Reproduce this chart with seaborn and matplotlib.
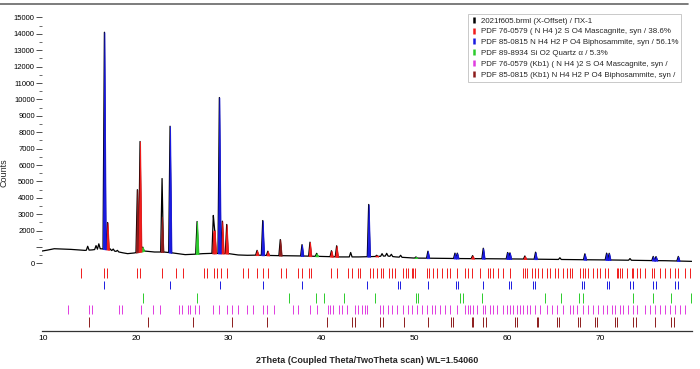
#!/usr/bin/env python3
"""XRD pattern of sample PX-1 with phase peaks and reference stick rows."""

import matplotlib
matplotlib.use("Agg")
import matplotlib.pyplot as plt
from matplotlib.lines import Line2D
from matplotlib.ticker import FixedLocator, MultipleLocator
import numpy as np
import seaborn as sns


# ---- measured pattern (2theta in degrees, counts) ----
BASE_X = [9.8, 10.5, 11.2, 12.0, 13.0, 14.0, 14.5, 15.3, 16.2, 17.0, 18.0, 18.6,
          19.1, 19.8, 20.9, 22.0, 23.0, 24.0, 25.3, 26.2, 27.2, 28.0, 30.0, 31.0,
          32.0, 33.0, 35.0, 37.0, 40.0, 42.0, 44.0, 46.0, 47.0, 48.0, 50.0, 52.0,
          55.0, 58.0, 60.0, 62.0, 65.0, 68.0, 70.0, 72.0, 75.0, 77.0, 79.85]
BASE_Y = [750, 820, 900, 880, 860, 820, 800, 830, 900, 840, 720, 650,
          600, 640, 760, 700, 700, 640, 540, 560, 600, 620, 600, 520,
          500, 510, 480, 470, 430, 400, 400, 430, 460, 400, 330, 320,
          300, 290, 280, 270, 250, 230, 220, 210, 180, 170, 130]

# peaks coloured by phase: position, apex counts
BLUE_POS = [16.60, 23.67, 28.98, 33.65, 37.88, 45.06, 51.44, 54.35, 54.60, 57.40,
            60.02, 60.27, 63.03, 68.34, 70.68, 70.96, 75.70, 76.00, 78.40]
BLUE_TOP = [14100, 8370, 10120, 2620, 1150, 3600, 750, 630, 630, 930,
            670, 650, 690, 590, 630, 620, 430, 420, 430]
RED_POS = [16.94, 20.44, 28.48, 29.30, 29.77, 33.04, 34.20, 38.74, 41.05, 41.61,
           45.92, 56.25, 61.88]
RED_TOP = [2500, 7440, 2000, 2580, 2380, 800, 750, 1300, 780, 1080,
           500, 480, 460]
GREEN_POS = [20.73, 26.58, 39.46, 50.15]
GREEN_TOP = [1000, 2560, 620, 400]
BROWN_POS = [20.15, 22.81, 28.33, 35.54]
BROWN_TOP = [4500, 2850, 1900, 1460]
# peaks where only the black pattern line is visible
BLACK_POS = [14.80, 15.70, 16.00, 17.20, 17.55, 18.00, 22.81, 28.33, 43.12,
             46.50, 47.00, 47.50, 48.50, 65.65, 73.20]
BLACK_TOP = [1050, 1090, 1200, 900, 880, 800, 5180, 2930, 670,
             600, 620, 560, 500, 350, 300]

# ---- reference stick positions (2theta) ----
RED_STICKS = [14.09, 16.60, 16.92, 20.15, 20.44, 22.84, 24.28, 25.07, 27.36, 27.62,
              28.44, 28.73, 29.19, 29.77, 31.50, 32.10, 33.00, 33.68, 34.22, 35.58,
              36.18, 37.41, 37.84, 38.66, 38.81, 41.00, 41.61, 42.86, 43.23, 43.94,
              44.12, 45.20, 45.55, 45.92, 46.35, 46.63, 47.28, 47.54, 47.89, 48.79,
              49.07, 49.32, 49.69, 49.86, 50.04, 51.37, 51.55, 52.01, 52.44, 52.92,
              53.46, 53.81, 54.53, 55.43, 55.78, 56.15, 57.04, 57.94, 58.12, 58.47,
              59.01, 59.55, 60.27, 61.70, 61.88, 62.07, 62.60, 62.96, 63.32, 63.68,
              64.22, 64.57, 65.11, 65.47, 66.01, 66.37, 66.73, 66.91, 67.80, 68.16,
              68.34, 68.70, 69.24, 69.60, 69.96, 70.50, 70.85, 71.75, 71.93, 72.11,
              72.29, 72.83, 73.37, 73.54, 73.91, 74.26, 74.80, 75.52, 75.77, 76.42,
              76.95, 77.49, 78.03, 78.39, 79.11, 79.64]
BLUE_STICKS = [16.60, 23.67, 29.00, 33.65, 37.85, 44.91, 48.18, 48.43, 51.47, 54.46,
               54.71, 57.40, 60.20, 60.38, 62.78, 62.96, 68.05, 68.27, 70.68, 70.96,
               73.19, 73.48, 75.70, 75.96, 78.03, 78.39]
GREEN_STICKS = [20.80, 26.61, 36.51, 39.39, 40.25, 42.40, 45.74, 50.15, 50.40, 54.89,
                55.24, 57.22, 64.04, 65.73, 67.73, 68.16, 73.54, 75.70, 77.60, 79.75]
MAGENTA_STICKS = [12.72, 14.98, 15.27, 18.21, 18.47, 20.58, 21.87, 22.59, 24.64, 24.92,
                  25.57, 25.82, 26.36, 26.79, 28.33, 28.95, 29.84, 30.32, 30.96, 32.00,
                  32.64, 33.72, 34.08, 34.87, 36.88, 37.41, 38.74, 39.46, 40.64, 40.89,
                  41.25, 41.90, 42.15, 42.69, 43.59, 43.95, 44.31, 44.66, 44.84, 46.28,
                  46.64, 47.18, 47.54, 48.07, 48.79, 49.33, 49.69, 50.23, 50.76, 51.30,
                  51.84, 52.20, 52.74, 53.28, 53.81, 54.53, 55.43, 55.79, 55.97, 56.33,
                  56.68, 57.40, 57.58, 58.12, 58.48, 58.84, 59.56, 59.91, 60.27, 60.63,
                  60.99, 61.35, 61.71, 62.07, 62.43, 62.96, 63.50, 64.22, 64.76, 65.30,
                  66.01, 66.73, 67.09, 67.45, 68.17, 68.70, 69.24, 69.78, 70.32, 70.68,
                  71.22, 71.58, 72.11, 72.47, 73.01, 73.55, 73.91, 74.80, 75.34, 75.88,
                  76.42, 76.96, 77.49, 78.03, 78.57, 79.11]
BROWN_STICKS = [14.98, 21.33, 26.11, 30.31, 34.08, 40.54, 43.23, 43.59, 46.28, 46.57,
                48.89, 51.47, 53.92, 54.17, 56.15, 56.32, 57.40, 57.69, 60.81, 60.99,
                63.14, 63.32, 65.30, 65.58, 67.56, 67.81, 69.42, 69.67, 71.57, 71.82,
                73.54, 73.83, 75.88, 77.67, 77.92]

LEGEND_LABELS = [
    "2021f605.brml (X-Offset) / ПХ-1",
    "PDF 76-0579 ( N H4 )2 S O4 Mascagnite, syn / 38.6%",
    "PDF 85-0815 N H4 H2 P O4 Biphosammite, syn / 56.1%",
    "PDF 89-8934 Si O2 Quartz α / 5.3%",
    "PDF 76-0579 (Kb1) ( N H4 )2 S O4 Mascagnite, syn /",
    "PDF 85-0815 (Kb1) N H4 H2 P O4 Biphosammite, syn /",
]

Y_TICKS = list(range(0, 15001, 1000))
X_TICKS = list(range(10, 80, 5))

BLACK = "#000000"
RED = "#f01c1c"
BLUE = "#1a1ae0"
GREEN = "#2ccc2c"
MAGENTA = "#e03ce0"
BROWN = "#8c1c1c"

PEAK_HALF_WIDTH = 0.15


def _build_profile(peaks):
    pos = np.array([p for p, _ in peaks])
    xs = np.unique(np.concatenate([BASE_X, pos - PEAK_HALF_WIDTH, pos, pos + PEAK_HALF_WIDTH]))
    base = np.interp(xs, BASE_X, BASE_Y)
    bump = np.zeros_like(xs)
    for p, top in peaks:
        amp = top - np.interp(p, BASE_X, BASE_Y)
        shape = np.clip(1 - np.abs(xs - p) / PEAK_HALF_WIDTH, 0, None)
        bump = np.maximum(bump, amp * shape)
    return xs, base, base + bump


def main() -> None:
    sns.set_theme(style="white")
    plt.rcParams["font.family"] = ["Liberation Sans", "DejaVu Sans"]

    phases = [
        (BROWN, BROWN_POS, BROWN_TOP),
        (GREEN, GREEN_POS, GREEN_TOP),
        (RED, RED_POS, RED_TOP),
        (BLUE, BLUE_POS, BLUE_TOP),
    ]
    all_peaks = list(zip(BLACK_POS, BLACK_TOP))
    for _, pos, top in phases:
        all_peaks += list(zip(pos, top))
    xs, base, prof = _build_profile(all_peaks)

    fig = plt.figure(figsize=(7.0, 3.69), dpi=100)
    ax = fig.add_axes([0.0596, 0.103, 0.9286, 0.8585])

    sns.lineplot(x=xs, y=prof, color=BLACK, linewidth=0.9, sort=False,
                 estimator=None, ax=ax, zorder=2)
    for color, pos, top in phases:
        for p, t in zip(pos, top):
            m = np.abs(xs - p) <= PEAK_HALF_WIDTH + 1e-9
            ax.fill_between(xs[m], base[m], np.minimum(prof[m], t),
                            color=color, linewidth=0.6, zorder=3)

    rows = [
        (RED, RED_STICKS, -880, -270),
        (BLUE, BLUE_STICKS, -1570, -1050),
        (GREEN, GREEN_STICKS, -2390, -1820),
        (MAGENTA, MAGENTA_STICKS, -3100, -2530),
        (BROWN, BROWN_STICKS, -3850, -3240),
    ]
    for color, sticks, lo, hi in rows:
        ax.vlines(sticks, lo, hi, color=color, linewidth=0.7, zorder=2)

    ax.set_xlim(9.85, 79.85)
    ax.set_ylim(-4116, 15200)

    ax.xaxis.set_major_locator(FixedLocator(X_TICKS))
    ax.xaxis.set_minor_locator(MultipleLocator(1))
    ax.set_xticklabels([str(t) if t % 10 == 0 else "" for t in X_TICKS])
    ax.yaxis.set_major_locator(FixedLocator(Y_TICKS))
    ax.yaxis.set_minor_locator(FixedLocator([t + 500 for t in Y_TICKS[:-1]]))
    ax.set_yticklabels(["" if t == 1000 else str(t) for t in Y_TICKS])

    ax.tick_params(axis="x", which="major", direction="in", length=4, width=0.8,
                   labelsize=6, pad=3, colors="#333333", labelcolor="black")
    ax.tick_params(axis="x", which="minor", direction="in", length=2, width=0.6,
                   colors="#333333")
    ax.tick_params(axis="y", which="major", direction="out", length=4, width=0.6,
                   labelsize=5.5, pad=1, colors="#333333", labelcolor="black", left=True)
    ax.tick_params(axis="y", which="minor", direction="out", length=2, width=0.5,
                   colors="#333333", left=True)

    for side in ("left", "top", "right"):
        ax.spines[side].set_visible(False)
    ax.spines["bottom"].set_color("#333333")
    ax.spines["bottom"].set_linewidth(0.9)

    ax.set_xlabel("2Theta (Coupled Theta/TwoTheta scan) WL=1.54060", fontsize=6.5,
                  fontweight="bold", labelpad=10)
    ax.set_ylabel("Counts", fontsize=6.5, labelpad=4)

    handles = [
        Line2D([], [], marker="|", linestyle="none", color=c, markersize=5,
               markeredgewidth=1.8)
        for c in (BLACK, RED, BLUE, GREEN, MAGENTA, BROWN)
    ]
    leg = ax.legend(handles, LEGEND_LABELS, loc="upper right",
                    bbox_to_anchor=(0.9835, 1.0), borderaxespad=0, fontsize=5.7,
                    handlelength=0.6, handletextpad=0.6, labelspacing=0.42,
                    borderpad=0.35, frameon=True, fancybox=False)
    leg.get_frame().set_edgecolor("#b0b0b0")
    leg.get_frame().set_linewidth(0.6)

    fig.add_artist(Line2D([0.0, 0.983], [0.989, 0.989], color="#666666",
                          linewidth=1.2, transform=fig.transFigure))

    fig.savefig("out.png", dpi=100)
    plt.close(fig)


if __name__ == "__main__":
    main()
